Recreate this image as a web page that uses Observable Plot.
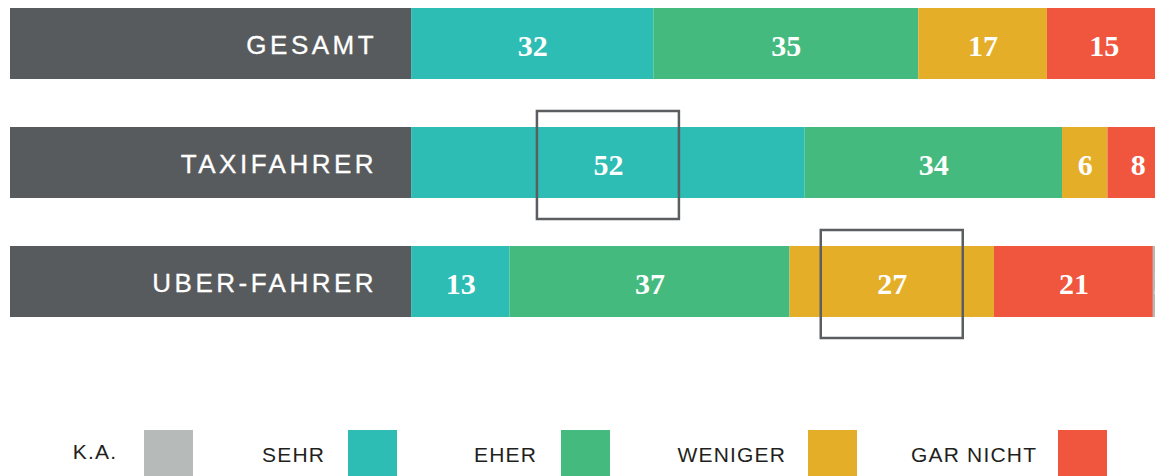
<!DOCTYPE html>
<html>
<head>
<meta charset="utf-8">
<script src="https://cdn.jsdelivr.net/npm/d3@7"></script>
<script src="https://cdn.jsdelivr.net/npm/@observablehq/plot@0.6"></script>
<style>
  html, body { margin: 0; padding: 0; background: #fff; overflow: hidden; }
  #wrap { position: relative; width: 1155px; }
  #legend { position: relative; width: 1155px; height: 136px; }
  .lg-label { position: absolute; font-family: "Liberation Sans", Arial, sans-serif; font-size: 21px; line-height: 21px; letter-spacing: 1.2px; color: #231F20; white-space: nowrap; }
  .lg-swatch { position: absolute; width: 49px; height: 50px; }
</style>
</head>
<body>
<div id="wrap"></div>
<div id="legend"></div>
<script>
// ---- data ----
const groups = ["GESAMT", "TAXIFAHRER", "UBER-FAHRER"];
const categories = ["SEHR", "EHER", "WENIGER", "GAR NICHT", "K.A."];
const sehr     = [32, 52, 13];
const eher     = [35, 34, 37];
const weniger  = [17, 6, 27];
const garNicht = [15, 8, 21];
const ka       = [1, 0, 2];
const highlights = [["TAXIFAHRER", "SEHR"], ["UBER-FAHRER", "WENIGER"]];
const legendOrder = ["K.A.", "SEHR", "EHER", "WENIGER", "GAR NICHT"];

// ---- styles / layout ----
const colors = {"SEHR": "#2DBDB4", "EHER": "#45BA7E", "WENIGER": "#E5AE29", "GAR NICHT": "#F0563D", "K.A.": "#B6BAB9"};
const LABEL_W = 53;      // width of the dark label block, in x units
const BOX_HALF = 9.38;   // half width of the highlight frame, in x units
const legendSwatchLeft = [144, 348, 561, 808, 1058];
const legendLabelRight = [116, 324, 536, 785, 1036];

const series = [sehr, eher, weniger, garNicht, ka];
const rows = [];
groups.forEach((g, gi) => {
  categories.forEach((c, ci) => rows.push({group: g, cat: c, value: series[ci][gi]}));
});

const boxes = highlights.map(([g, c]) => {
  const gi = groups.indexOf(g), ci = categories.indexOf(c);
  let start = 0;
  for (let k = 0; k < ci; k++) start += series[k][gi];
  const mid = start + series[ci][gi] / 2;
  return {group: g, x1: mid - BOX_HALF, x2: mid + BOX_HALF};
});

const chart = Plot.plot({
  width: 1155,
  height: 340,
  marginLeft: 10,
  marginRight: -13,
  marginTop: 7,
  marginBottom: 23,
  x: {domain: [-LABEL_W, 100], axis: null},
  y: {domain: groups, axis: null, paddingInner: 0.406, paddingOuter: 0},
  color: {domain: categories, range: categories.map(c => colors[c])},
  marks: [
    Plot.barX(groups, {x1: -LABEL_W, x2: 0, y: d => d, fill: "#585B5E"}),
    Plot.text(groups, {x: 0, y: d => d, text: d => d, textAnchor: "end", dx: -34.5, dy: 1.5,
      fill: "white", fontSize: 26, fontFamily: "Liberation Sans"}),
    Plot.barX(rows, Plot.stackX({x: "value", y: "group", fill: "cat"})),
    Plot.text(rows, Plot.stackX({x: "value", y: "group", text: d => d.value > 0 ? String(d.value) : "",
      fill: "white", fontSize: 30, fontWeight: "bold", fontFamily: "Liberation Serif", dy: 2})),
    Plot.barX(boxes, {x1: "x1", x2: "x2", y: "group", fill: "none", stroke: "#5B5E61", strokeWidth: 2.5,
      insetTop: -16, insetBottom: -21})
  ]
});
d3.select(chart).selectAll('g[font-family="Liberation Sans"] text')
  .attr("letter-spacing", "3.5px")
  .attr("stroke", "white").attr("stroke-width", 0.3);
document.getElementById("wrap").appendChild(chart);

// ---- legend ----
const legend = document.getElementById("legend");
legendOrder.forEach((c, i) => {
  const left = legendSwatchLeft[i];
  const sw = document.createElement("div");
  sw.className = "lg-swatch";
  sw.style.left = left + "px";
  sw.style.top = "90px";
  sw.style.background = colors[c];
  legend.appendChild(sw);
  const lab = document.createElement("span");
  lab.className = "lg-label";
  lab.textContent = c;
  lab.style.right = (1155 - legendLabelRight[i] - 1.2) + "px";
  lab.style.top = (c === "K.A." ? 101 : 104) + "px";
  legend.appendChild(lab);
});
</script>
</body>
</html>
